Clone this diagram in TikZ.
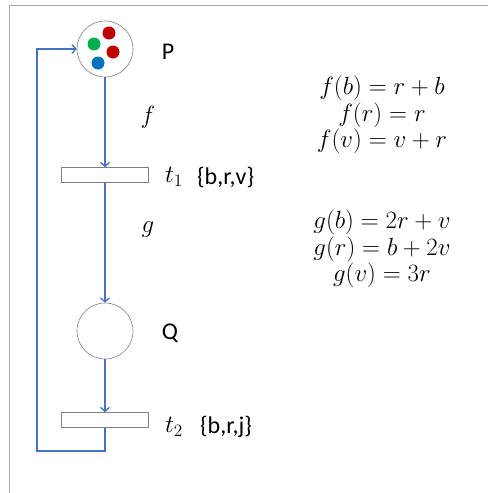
\documentclass[tikz,border=0pt]{standalone}
\usepackage{fontspec}
\setmainfont{Carlito}
\usetikzlibrary{arrows.meta}
\definecolor{arcblue}{RGB}{68,114,196}
\definecolor{framegray}{RGB}{165,172,190}
\definecolor{tokgreen}{RGB}{0,176,80}
\definecolor{tokred}{RGB}{192,0,0}
\definecolor{tokblue}{RGB}{0,112,192}
\begin{document}
\begin{tikzpicture}[
  x=1pt, y=-1pt,
  >={Straight Barb[length=4pt,width=9pt]},
  place/.style={circle, draw=gray, line width=0.6pt, minimum size=56pt, inner sep=0pt},
  trans/.style={rectangle, draw=gray, line width=0.6pt, minimum width=87pt, minimum height=15pt, inner sep=0pt},
  token/.style={circle, minimum size=13pt, inner sep=0pt},
  arc/.style={->, draw=arcblue, line width=1.3pt},
  lbl/.style={font={\fontsize{24}{28}\selectfont}, inner sep=0pt},
  mathlbl/.style={font={\fontsize{20}{24}\selectfont}, inner sep=0pt, scale=1.2, transform shape},
  eqn/.style={font={\fontsize{20}{22}\selectfont}, align=center, inner sep=0pt, scale=1.2, transform shape}
]
\useasboundingbox (0,0) rectangle (488,493);
\draw[framegray, line width=1pt] (9,493) -- (9,5) -- (488,5);
% places and transitions
\node[place] (P) at (105,49) {};
\node[place] (Q) at (105,331) {};
\node[trans] (t1) at (105,175) {};
\node[trans] (t2) at (105,420) {};
\node[token, fill=tokgreen] (tokg) at (94,44) {};
\node[token, fill=tokred] (tokr1) at (109,33) {};
\node[token, fill=tokred] (tokr2) at (113,52) {};
\node[token, fill=tokblue] (tokb) at (98,63) {};
% labels
\node[lbl] (Plbl) at (168,52) {P};
\node[lbl] (Qlbl) at (170,333) {Q};
\node[mathlbl] (t1lbl) at (174,177) {$t_1$};
\node[lbl, anchor=west] (t1set) at (197,177) {\{b,r,v\}};
\node[mathlbl] (t2lbl) at (174,427) {$t_2$};
\node[lbl, anchor=west] (t2set) at (200,427) {\{b,r,j\}};
\node[mathlbl] (flbl) at (148,117) {$f$};
\node[mathlbl] (glbl) at (148,230) {$g$};
\node[eqn] (feqs) at (382,115) {$f(b)=r+b$\\ $f(r)=r$\\ $f(v)=v+r$};
\node[eqn] (geqs) at (382,249) {$g(b)=2r+v$\\ $g(r)=b+2v$\\ $g(v)=3r$};
% arcs
\coordinate (ret) at (37,451);
\draw[arc] (P) -- (t1);
\draw[arc] (t1) -- (Q);
\draw[arc] (Q) -- (t2);
\draw[arc] (t2.south) |- (ret) |- (P.west);
\end{tikzpicture}
\end{document}
